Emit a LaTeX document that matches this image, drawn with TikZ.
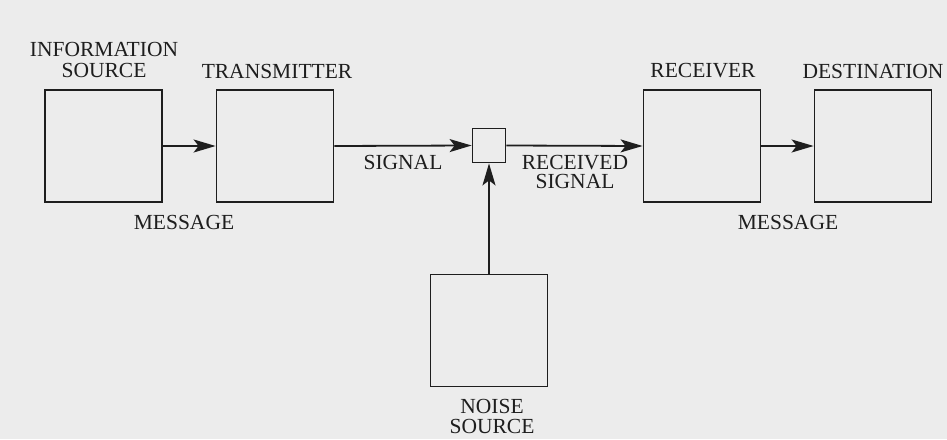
\documentclass[tikz,border=0pt]{standalone}
\usepackage{fontspec}
\setmainfont{Liberation Serif}
\usetikzlibrary{arrows.meta}
\definecolor{bg}{HTML}{ECECEC}
\definecolor{ink}{HTML}{1E1E1E}
\begin{document}
\begin{tikzpicture}[x=1pt,y=-1pt,
  blk/.style={draw=ink, line width=1.8pt, minimum width=117pt, minimum height=112pt, inner sep=0pt},
  sum/.style={draw=ink, line width=1.8pt, minimum width=33pt, minimum height=34pt, inner sep=0pt},
  lbl/.style={text=ink, inner sep=0pt, align=center, font=\fontsize{21.5}{21}\selectfont},
  conn/.style={draw=ink, line width=1.8pt, -{Stealth[length=22pt,width=13pt,inset=5pt]}}]
\fill[bg] (0,0) rectangle (947,439);
\useasboundingbox (0,0) rectangle (947,439);
\node[blk] (src) at (103.5,146) {};
\node[blk] (tx) at (275,146) {};
\node[sum] (mix) at (489,145.5) {};
\node[blk] (rx) at (702,146) {};
\node[blk] (dst) at (873,146) {};
\node[blk] (noise) at (489,330.5) {};
\node[lbl] (lsrc) at (104,60) {INFORMATION\\SOURCE};
\node[lbl] (ltx) at (277,71) {TRANSMITTER};
\node[lbl] (lrx) at (703,71) {RECEIVER};
\node[lbl] (ldst) at (873,71) {DESTINATION};
\node[lbl] (lmsg1) at (184,222) {MESSAGE};
\node[lbl] (lmsg2) at (788,222) {MESSAGE};
\node[lbl] (lsig) at (403,162) {SIGNAL};
\node[lbl, font=\fontsize{21.5}{19.5}\selectfont] (lrsig) at (575,172) {RECEIVED\\SIGNAL};
\node[lbl, font=\fontsize{21.5}{20}\selectfont] (lnoise) at (492,416) {NOISE\\SOURCE};
\draw[conn] (src.east) -- (tx.west);
\draw[conn] (tx.east) -- (mix.west);
\draw[conn] (mix.east) -- (rx.west);
\draw[conn] (rx.east) -- (dst.west);
\draw[conn] (noise.north) -- (mix.south);
\end{tikzpicture}
\end{document}
